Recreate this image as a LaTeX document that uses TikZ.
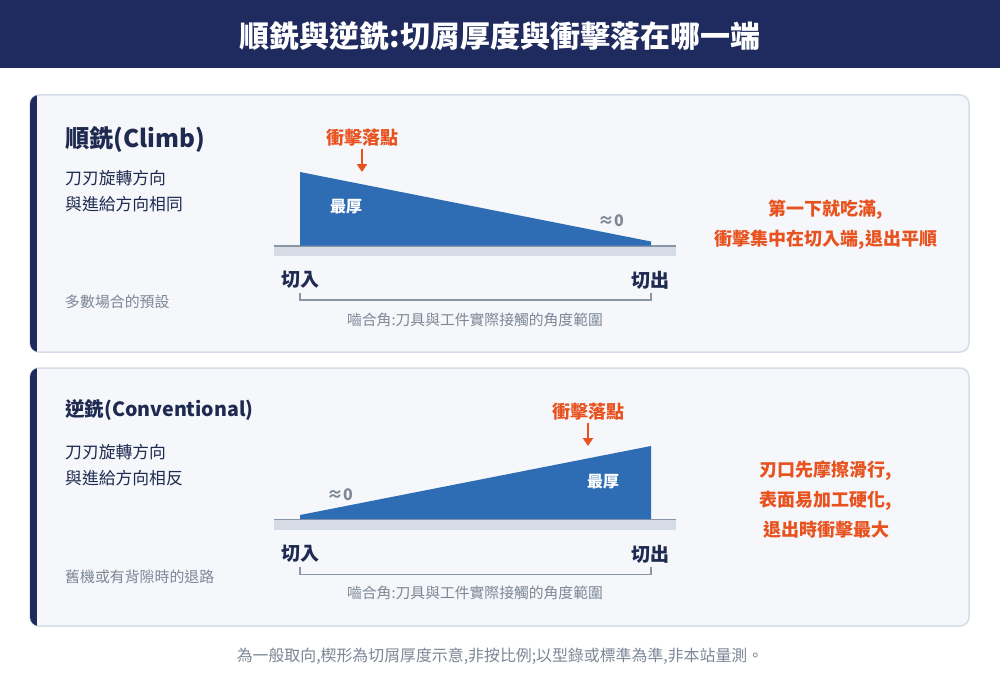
\documentclass[tikz,border=0pt]{standalone}
\usepackage{fontspec}
\setmainfont{Noto Sans CJK TC}
\usetikzlibrary{arrows.meta}

\definecolor{navy}{HTML}{1F2A5E}
\definecolor{ink}{HTML}{1E2A50}
\definecolor{muted}{HTML}{7D8796}
\definecolor{cardfill}{HTML}{F5F7FB}
\definecolor{cardline}{HTML}{D6DDE8}
\definecolor{wedgeblue}{HTML}{2E6DB4}
\definecolor{hitorange}{HTML}{E8521E}
\definecolor{stripgray}{HTML}{D5DCE6}
\definecolor{basegray}{HTML}{8A96A6}

\tikzset{
  card/.style={draw=cardline, line width=1.5pt, fill=cardfill, rounded corners=9pt},
  wedge/.style={fill=wedgeblue},
  hitarrow/.style={draw=hitorange, line width=2pt, -{Triangle[width=10pt,length=8pt]}},
  bracket/.style={draw=basegray, line width=1.5pt},
  headtxt/.style={anchor=west, inner sep=0pt, text=ink, font=\bfseries\fontsize{#1}{26}\selectfont},
  desctxt/.style={anchor=west, inner sep=0pt, text=ink, align=left, font=\fontsize{16.8}{26}\selectfont},
  notetxt/.style={anchor=west, inner sep=0pt, text=muted, font=\fontsize{14.9}{18}\selectfont},
  hittxt/.style={inner sep=2pt, text=hitorange, font=\bfseries\fontsize{18}{20}\selectfont},
  endtxt/.style={inner sep=0pt, text=ink, font=\bfseries\fontsize{19}{20}\selectfont},
  thicktxt/.style={inner sep=0pt, text=white, font=\bfseries\fontsize{16}{18}\selectfont},
  zerotxt/.style={inner sep=0pt, text=muted, font=\bfseries\fontsize{16}{18}\selectfont},
  angletxt/.style={inner sep=0pt, text=muted, font=\fontsize{14.8}{18}\selectfont},
  resulttxt/.style={inner sep=0pt, text=hitorange, align=center, font=\bfseries\fontsize{18}{30}\selectfont}
}

\begin{document}
\begin{tikzpicture}[x=1pt,y=-1pt]
\useasboundingbox (0,0) rectangle (1000,674);
\fill[white] (0,0) rectangle (1000,674);

%Shape: title bar
\fill[navy] (0,0) rectangle (1000,68);
% Text Node
\node[inner sep=0pt, text=white, font=\bfseries\fontsize{30}{34}\selectfont] (title) at (500,36) {順銑與逆銑:切屑厚度與衝擊落在哪一端};

%Shape: card of climb milling
\draw[card] (30,95) rectangle (969,352);
\begin{scope}
  \clip[rounded corners=9pt] (30,95) rectangle (969,352);
  \fill[navy] (30,95) rectangle (37,352);
\end{scope}
%Shape: workpiece
\fill[stripgray] (274,246) rectangle (676,256);
\draw[basegray, line width=1.5pt] (274,246) -- (676,246);
%Shape: chip wedge
\fill[wedge] (300,245.5) -- (300,172) -- (651,241.5) -- (651,245.5) -- cycle;
%Shape: contact bracket
\coordinate (brA1) at (300,293);
\coordinate (brB1) at (651,293);
\draw[bracket] (brA1) -- ++(0,7) -| (brB1);

% Text Node
\node[headtxt=24.3] (climb) at (65,140) {順銑(Climb)};
% Text Node
\node[desctxt] (climbdesc) at (65,191) {刀刃旋轉方向\\與進給方向相同};
% Text Node
\node[notetxt] (climbnote) at (65,302) {多數場合的預設};
% Text Node
\node[hittxt] (hit1) at (362,138) {衝擊落點};
\coordinate (top1) at (362,172);
\draw[hitarrow] (hit1) -- (top1);
% Text Node
\node[thicktxt] (thick1) at (346,207) {最厚};
% Text Node
\node[zerotxt] (zero1) at (611,221) {≈0};
% Text Node
\node[endtxt] (in1) at (300,280) {切入};
% Text Node
\node[endtxt] (out1) at (650,280) {切出};
% Text Node
\node[angletxt] (angle1) at (475,320) {嚙合角:刀具與工件實際接觸的角度範圍};
% Text Node
\node[resulttxt] (result1) at (826,225) {第一下就吃滿,\\衝擊集中在切入端,退出平順};

%Shape: card of conventional milling
\draw[card] (30,368) rectangle (969,626);
\begin{scope}
  \clip[rounded corners=9pt] (30,368) rectangle (969,626);
  \fill[navy] (30,368) rectangle (37,626);
\end{scope}
%Shape: workpiece
\fill[stripgray] (274,519.5) rectangle (676,530);
\draw[basegray, line width=1.5pt] (274,519.5) -- (676,519.5);
%Shape: chip wedge
\fill[wedge] (300,519) -- (300,515) -- (651,446) -- (651,519) -- cycle;
%Shape: contact bracket
\coordinate (brA2) at (300,567);
\coordinate (brB2) at (651,567);
\draw[bracket] (brA2) -- ++(0,7.5) -| (brB2);

% Text Node
\node[headtxt=19.6] (conv) at (65,410) {逆銑(Conventional)};
% Text Node
\node[desctxt] (convdesc) at (65,465.5) {刀刃旋轉方向\\與進給方向相反};
% Text Node
\node[notetxt] (convnote) at (65,577) {舊機或有背隙時的退路};
% Text Node
\node[hittxt] (hit2) at (588,412) {衝擊落點};
\coordinate (top2) at (588,446);
\draw[hitarrow] (hit2) -- (top2);
% Text Node
\node[thicktxt] (thick2) at (603,482) {最厚};
% Text Node
\node[zerotxt] (zero2) at (340,495) {≈0};
% Text Node
\node[endtxt] (in2) at (300,554) {切入};
% Text Node
\node[endtxt] (out2) at (650,554) {切出};
% Text Node
\node[angletxt] (angle2) at (475,593) {嚙合角:刀具與工件實際接觸的角度範圍};
% Text Node
\node[resulttxt] (result2) at (826,499.5) {刃口先摩擦滑行,\\表面易加工硬化,\\退出時衝擊最大};

% Text Node
\node[inner sep=0pt, text=muted, font=\fontsize{15.9}{18}\selectfont] (foot) at (500,656) {為一般取向,楔形為切屑厚度示意,非按比例;以型錄或標準為準,非本站量測。};

\end{tikzpicture}
\end{document}
